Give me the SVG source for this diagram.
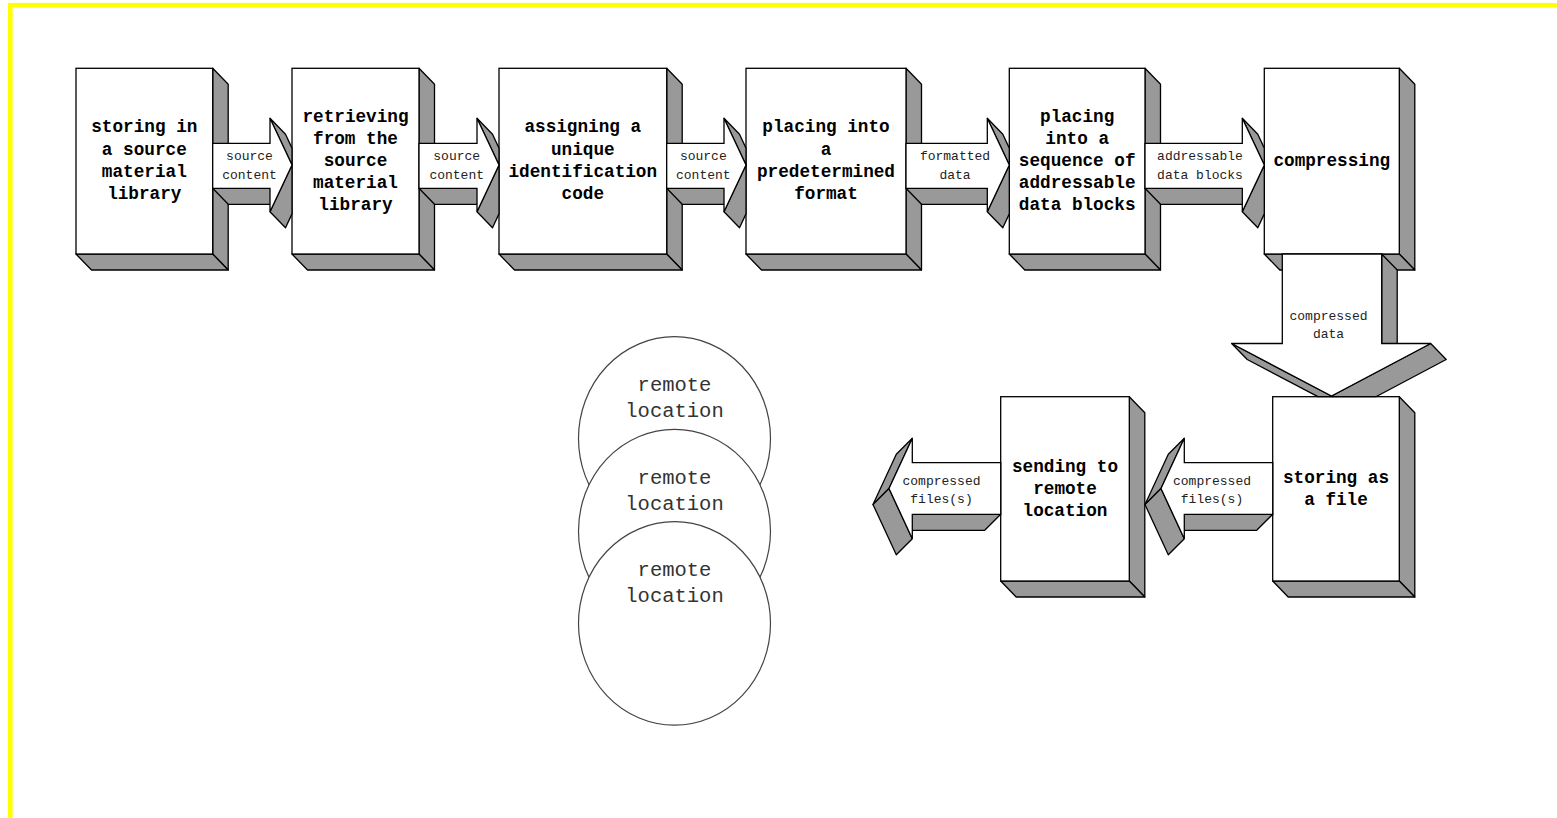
<svg xmlns="http://www.w3.org/2000/svg" width="1557" height="818" viewBox="0 0 1557 818">
<style>
.f{fill:#fff;stroke:#000;stroke-width:1.3;stroke-linejoin:miter}
.s{fill:#999;stroke:#000;stroke-width:1.3;stroke-linejoin:round}
.t{font-family:"Courier New","Nimbus Mono PS","FreeMono","Liberation Mono",monospace;font-weight:bold;font-size:17.7px;text-anchor:middle;fill:#000}
.l{font-family:"Courier New","Nimbus Mono PS","FreeMono","Liberation Mono",monospace;font-size:13px;text-anchor:middle;fill:#222}
.c{font-family:"Courier New","Nimbus Mono PS","FreeMono","Liberation Mono",monospace;font-size:20.5px;text-anchor:middle;fill:#333}
.e{fill:#fff;stroke:#444;stroke-width:1.2}
</style>
<rect x="0" y="0" width="1557" height="818" fill="#fff"/>
<rect x="10.3" y="5.2" width="2000" height="2000" fill="none" stroke="#ffff00" stroke-width="4.6"/>

<g id="remote1">
<ellipse class="e" cx="674.5" cy="438.4" rx="96" ry="101.7"/>
<text class="c" x="674.5" y="391.4">remote</text>
<text class="c" x="674.5" y="417.4">location</text>
</g>
<g id="remote2">
<ellipse class="e" cx="674.5" cy="531" rx="96" ry="101.7"/>
<text class="c" x="674.5" y="484">remote</text>
<text class="c" x="674.5" y="510">location</text>
</g>
<g id="remote3">
<ellipse class="e" cx="674.5" cy="623.4" rx="96" ry="101.7"/>
<text class="c" x="674.5" y="576.4">remote</text>
<text class="c" x="674.5" y="602.4">location</text>
</g>

<g id="n1">
<polygon class="s" points="212.7,68.3 228.2,84.3 228.2,270 212.7,254"/>
<polygon class="s" points="76,254 212.7,254 228.2,270 91.5,270"/>
<rect class="f" x="76" y="68.3" width="136.7" height="185.7"/>
<text class="t" x="144.3" y="132.3">storing in</text>
<text class="t" x="144.3" y="154.5">a source</text>
<text class="t" x="144.3" y="176.7">material</text>
<text class="t" x="144.3" y="198.9">library</text>
</g>
<g id="n2">
<polygon class="s" points="419,68.3 434.5,84.3 434.5,270 419,254"/>
<polygon class="s" points="292,254 419,254 434.5,270 307.5,270"/>
<rect class="f" x="292" y="68.3" width="127" height="185.7"/>
<text class="t" x="355.5" y="121.5">retrieving</text>
<text class="t" x="355.5" y="143.7">from the</text>
<text class="t" x="355.5" y="165.9">source</text>
<text class="t" x="355.5" y="188.1">material</text>
<text class="t" x="355.5" y="210.3">library</text>
</g>
<g id="n3">
<polygon class="s" points="666.7,68.3 682.2,84.3 682.2,270 666.7,254"/>
<polygon class="s" points="499,254 666.7,254 682.2,270 514.5,270"/>
<rect class="f" x="499" y="68.3" width="167.7" height="185.7"/>
<text class="t" x="582.8" y="132.3">assigning a</text>
<text class="t" x="582.8" y="154.5">unique</text>
<text class="t" x="582.8" y="176.7">identification</text>
<text class="t" x="582.8" y="198.9">code</text>
</g>
<g id="n4">
<polygon class="s" points="906,68.3 921.5,84.3 921.5,270 906,254"/>
<polygon class="s" points="746,254 906,254 921.5,270 761.5,270"/>
<rect class="f" x="746" y="68.3" width="160" height="185.7"/>
<text class="t" x="826" y="132.3">placing into</text>
<text class="t" x="826" y="154.5">a</text>
<text class="t" x="826" y="176.7">predetermined</text>
<text class="t" x="826" y="198.9">format</text>
</g>
<g id="n5">
<polygon class="s" points="1145,68.3 1160.5,84.3 1160.5,270 1145,254"/>
<polygon class="s" points="1009.3,254 1145,254 1160.5,270 1024.8,270"/>
<rect class="f" x="1009.3" y="68.3" width="135.7" height="185.7"/>
<text class="t" x="1077.2" y="121.5">placing</text>
<text class="t" x="1077.2" y="143.7">into a</text>
<text class="t" x="1077.2" y="165.9">sequence of</text>
<text class="t" x="1077.2" y="188.1">addressable</text>
<text class="t" x="1077.2" y="210.3">data blocks</text>
</g>
<g id="n6">
<polygon class="s" points="1399.3,68.3 1414.8,84.3 1414.8,270 1399.3,254"/>
<polygon class="s" points="1264.3,254 1399.3,254 1414.8,270 1279.8,270"/>
<rect class="f" x="1264.3" y="68.3" width="135" height="185.7"/>
<text class="t" x="1331.8" y="165.7">compressing</text>
</g>
<g id="n7">
<polygon class="s" points="1399.3,396.7 1414.8,412.7 1414.8,597 1399.3,581"/>
<polygon class="s" points="1272.7,581 1399.3,581 1414.8,597 1288.2,597"/>
<rect class="f" x="1272.7" y="396.7" width="126.6" height="184.3"/>
<text class="t" x="1336" y="482.7">storing as</text>
<text class="t" x="1336" y="504.9">a file</text>
</g>
<g id="n8">
<polygon class="s" points="1129.3,396.7 1144.8,412.7 1144.8,597 1129.3,581"/>
<polygon class="s" points="1000.7,581 1129.3,581 1144.8,597 1016.2,597"/>
<rect class="f" x="1000.7" y="396.7" width="128.6" height="184.3"/>
<text class="t" x="1065" y="471.7">sending to</text>
<text class="t" x="1065" y="493.9">remote</text>
<text class="t" x="1065" y="516.1">location</text>
</g>

<g id="connectors">
<g id="a1">
<polygon class="s" points="212.7,188.3 270,188.3 285.5,204.3 228.2,204.3"/>
<polygon class="s" points="270,118.3 292,165 292,148.1 285.5,134.3"/>
<polygon class="s" points="292,165 270,211.7 285.5,227.7 292,213.9"/>
<polygon class="f" points="212.7,143.3 270,143.3 270,118.3 292,165 270,211.7 270,188.3 212.7,188.3"/>
<text class="l" x="249.5" y="160.3">source</text>
<text class="l" x="249.5" y="178.5">content</text>
</g>
<g id="a2">
<polygon class="s" points="419,188.3 477,188.3 492.5,204.3 434.5,204.3"/>
<polygon class="s" points="477,118.3 499,165 499,148.1 492.5,134.3"/>
<polygon class="s" points="499,165 477,211.7 492.5,227.7 499,213.9"/>
<polygon class="f" points="419,143.3 477,143.3 477,118.3 499,165 477,211.7 477,188.3 419,188.3"/>
<text class="l" x="456.7" y="160.3">source</text>
<text class="l" x="456.7" y="178.5">content</text>
</g>
<g id="a3">
<polygon class="s" points="666.7,188.3 724,188.3 739.5,204.3 682.2,204.3"/>
<polygon class="s" points="724,118.3 746,165 746,148.1 739.5,134.3"/>
<polygon class="s" points="746,165 724,211.7 739.5,227.7 746,213.9"/>
<polygon class="f" points="666.7,143.3 724,143.3 724,118.3 746,165 724,211.7 724,188.3 666.7,188.3"/>
<text class="l" x="703.3" y="160.3">source</text>
<text class="l" x="703.3" y="178.5">content</text>
</g>
<g id="a4">
<polygon class="s" points="906,188.3 987.3,188.3 1002.8,204.3 921.5,204.3"/>
<polygon class="s" points="987.3,118.3 1009.3,165 1009.3,148.1 1002.8,134.3"/>
<polygon class="s" points="1009.3,165 987.3,211.7 1002.8,227.7 1009.3,213.9"/>
<polygon class="f" points="906,143.3 987.3,143.3 987.3,118.3 1009.3,165 987.3,211.7 987.3,188.3 906,188.3"/>
<text class="l" x="955" y="160.3">formatted</text>
<text class="l" x="955" y="178.5">data</text>
</g>
<g id="a5">
<polygon class="s" points="1145,188.3 1242.3,188.3 1257.8,204.3 1160.5,204.3"/>
<polygon class="s" points="1242.3,118.3 1264.3,165 1264.3,148.1 1257.8,134.3"/>
<polygon class="s" points="1264.3,165 1242.3,211.7 1257.8,227.7 1264.3,213.9"/>
<polygon class="f" points="1145,143.3 1242.3,143.3 1242.3,118.3 1264.3,165 1242.3,211.7 1242.3,188.3 1145,188.3"/>
<text class="l" x="1200" y="160.3">addressable</text>
<text class="l" x="1200" y="178.5">data blocks</text>
</g>
<g id="a6">
<polygon class="s" points="1381.7,254 1381.7,343.5 1397.2,359.5 1397.2,270"/>
<polygon class="s" points="1231.7,343.5 1331.5,396 1332.2,396.7 1317.9,396.7 1247.2,359.5"/>
<polygon class="s" points="1331.5,396 1430.7,343.5 1446.2,359.5 1375.9,396.7 1332.2,396.7"/>
<polygon class="f" points="1282.3,254 1381.7,254 1381.7,343.5 1430.7,343.5 1331.5,396 1231.7,343.5 1282.3,343.5"/>
<text class="l" x="1328.5" y="320">compressed</text>
<text class="l" x="1328.5" y="338.3">data</text>
</g>
<g id="a7">
<polygon class="s" points="1272.7,514.3 1184.3,514.3 1168.3,530.3 1256.7,530.3"/>
<polygon class="s" points="1184.3,438.3 1161,488.5 1145,504.5 1168.3,454.3"/>
<polygon class="s" points="1161,488.5 1184.3,538.7 1168.3,554.7 1145,504.5"/>
<polygon class="f" points="1272.7,462.7 1184.3,462.7 1184.3,438.3 1161,488.5 1184.3,538.7 1184.3,514.3 1272.7,514.3"/>
<text class="l" x="1212" y="485">compressed</text>
<text class="l" x="1212" y="502.7">files(s)</text>
</g>
<g id="a8">
<polygon class="s" points="1000.7,514.3 912.3,514.3 896.3,530.3 984.7,530.3"/>
<polygon class="s" points="912.3,438.3 889,488.5 873,504.5 896.3,454.3"/>
<polygon class="s" points="889,488.5 912.3,538.7 896.3,554.7 873,504.5"/>
<polygon class="f" points="1000.7,462.7 912.3,462.7 912.3,438.3 889,488.5 912.3,538.7 912.3,514.3 1000.7,514.3"/>
<text class="l" x="941.5" y="485">compressed</text>
<text class="l" x="941.5" y="502.7">files(s)</text>
</g>
</g>
</svg>
